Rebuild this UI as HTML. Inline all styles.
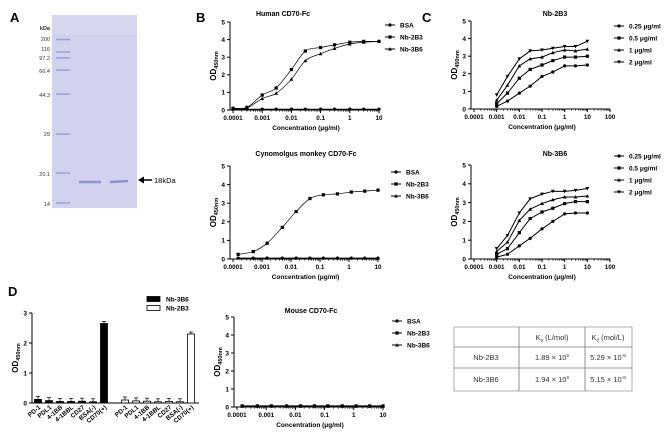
<!DOCTYPE html>
<html><head><meta charset="utf-8"><style>
html,body{margin:0;padding:0;background:#fff}
svg{display:block;font-family:"Liberation Sans",Arial,sans-serif}
</style></head><body>
<svg id="fig" width="667" height="433" viewBox="0 0 667 433" xmlns="http://www.w3.org/2000/svg">
<g>
<text x="10" y="22" font-size="13" font-weight="bold">A</text>
<rect x="52" y="15" width="85" height="193" fill="#d0d2ee"/>
<rect x="52" y="15" width="85" height="20" fill="#d8d8ee" opacity="0.7"/>
<g font-size="5.5" fill="#333" text-anchor="end">
<text x="50" y="30" font-weight="bold">kDa</text>
<text x="50" y="41">200</text><text x="50" y="51">116</text><text x="50" y="60">97.2</text>
<text x="50" y="73">66.4</text><text x="50" y="97">44.3</text><text x="50" y="136">29</text>
<text x="50" y="176">20.1</text><text x="50" y="206">14</text>
</g>
<g stroke="#9ca0d6" stroke-width="1.5">
<line x1="56" y1="39.5" x2="70" y2="39.5"/><line x1="56" y1="52" x2="70" y2="52"/><line x1="56" y1="58" x2="70" y2="58"/>
<line x1="56" y1="70" x2="70" y2="70"/><line x1="56" y1="94" x2="70" y2="94"/><line x1="56" y1="134" x2="70" y2="134"/>
<line x1="56" y1="173" x2="70" y2="173"/><line x1="56" y1="203" x2="70" y2="203"/>
</g>
<line x1="79" y1="182" x2="101" y2="182" stroke="#8d93d0" stroke-width="2.5"/>
<line x1="110" y1="182" x2="128" y2="181" stroke="#8d93d0" stroke-width="2.5"/>
<line x1="142" y1="180" x2="152" y2="180" stroke="#000" stroke-width="1.5"/>
<polygon points="138,180 144,176.5 144,183.5" fill="#000"/>
<text x="154" y="183" font-size="7.5">18kDa</text>
</g>
<text x="196" y="22" font-size="13" font-weight="bold">B</text>
<text x="422" y="22" font-size="13" font-weight="bold">C</text>
<text x="8" y="296" font-size="13" font-weight="bold">D</text>
<g id="charts"></g>
<g font-size="7.5" fill="#333">
<rect x="454" y="327" width="178" height="64" fill="none" stroke="#999" stroke-width="0.8"/>
<line x1="519" y1="327" x2="519" y2="391" stroke="#777" stroke-width="0.8"/>
<line x1="585" y1="327" x2="585" y2="391" stroke="#777" stroke-width="0.8"/>
<line x1="454" y1="347" x2="632" y2="347" stroke="#777" stroke-width="0.8"/>
<line x1="454" y1="368" x2="632" y2="368" stroke="#777" stroke-width="0.8"/>
<text x="552" y="340" text-anchor="middle">K<tspan font-size="4.5" dy="1.5">a</tspan><tspan dy="-1.5"> (L/mol)</tspan></text>
<text x="608" y="340" text-anchor="middle">K<tspan font-size="4.5" dy="1.5">d</tspan><tspan dy="-1.5"> (mol/L)</tspan></text>
<text x="486" y="360" text-anchor="middle">Nb-2B3</text>
<text x="552" y="360" text-anchor="middle">1.89 × 10<tspan font-size="4.5" dy="-3">9</tspan></text>
<text x="608" y="360" text-anchor="middle">5.29 × 10<tspan font-size="4.5" dy="-3">-8</tspan></text>
<text x="486" y="382" text-anchor="middle">Nb-3B6</text>
<text x="552" y="382" text-anchor="middle">1.94 × 10<tspan font-size="4.5" dy="-3">9</tspan></text>
<text x="608" y="382" text-anchor="middle">5.15 × 10<tspan font-size="4.5" dy="-3">-8</tspan></text>
</g>
</svg>
<script>
const concB = [0.0001,0.0003,0.001,0.003,0.01,0.03,0.1,0.3,1,3,10];
const humanBSA = [0.05,0.05,0.05,0.05,0.05,0.05,0.05,0.05,0.05,0.05,0.05];
const human2B3 = [0.1,0.15,0.85,1.25,2.3,3.35,3.55,3.7,3.85,3.9,3.9];
const human3B6 = [0.1,0.12,0.65,0.95,1.75,2.8,3.2,3.5,3.75,3.85,3.9];
const concCyno = [0.00015,0.0005,0.0015,0.005,0.015,0.045,0.13,0.4,1.2,3.5,10];
const cynoBSA = [0.05,0.05,0.05,0.05,0.05,0.05,0.05,0.05,0.05,0.05,0.05];
const cyno2B3 = [0.25,0.4,0.85,1.7,2.55,3.25,3.45,3.5,3.6,3.65,3.7];
const cyno3B6 = [0.05,0.05,0.05,0.05,0.05,0.05,0.05,0.05,0.05,0.05,0.05];
const mouseBSA = [0.05,0.05,0.05,0.05,0.05,0.05,0.05,0.05,0.05,0.05,0.05];
const mouse2B3 = [0.06,0.06,0.06,0.06,0.06,0.06,0.06,0.06,0.06,0.06,0.06];
const mouse3B6 = [0.04,0.04,0.04,0.04,0.04,0.04,0.04,0.04,0.04,0.04,0.04];
const concC = [0.001,0.003,0.01,0.03,0.1,0.3,1,3,10];
const c2B3_025 = [0.15,0.45,0.9,1.3,1.85,2.1,2.45,2.45,2.5];
const c2B3_05 = [0.3,0.9,1.75,2.25,2.5,2.75,2.95,2.95,3.0];
const c2B3_1 = [0.5,1.35,2.45,2.85,2.95,3.2,3.35,3.3,3.4];
const c2B3_2 = [0.8,1.85,2.85,3.3,3.35,3.45,3.55,3.55,3.85];
const c3B6_025 = [0.1,0.25,0.7,1.1,1.6,2.0,2.4,2.45,2.45];
const c3B6_05 = [0.25,0.55,1.4,2.15,2.5,2.7,2.95,3.05,3.05];
const c3B6_1 = [0.4,0.9,2.05,2.65,2.95,3.15,3.3,3.3,3.35];
const c3B6_2 = [0.55,1.25,2.45,3.2,3.45,3.6,3.6,3.65,3.75];
const dCategories = ["PD-1","PDL1","4-1BB","4-1BBL","CD27","BSA(-)","CD70(+)"];
const d3B6 = [0.12,0.08,0.05,0.05,0.06,0.04,2.65];
const d2B3 = [0.1,0.07,0.06,0.04,0.05,0.04,2.3];
const dYTicks = [0,1,2,3];
const yTicksOD = [0,1,2,3,4,5];
const xTickB = ["0.0001","0.001","0.01","0.1","1","10"];
const xTickC = ["0.0001","0.001","0.01","0.1","1","10","100"];
const legB = ["BSA","Nb-2B3","Nb-3B6"];
const legC = ["0.25 μg/ml","0.5 μg/ml","1 μg/ml","2 μg/ml"];

const NS="http://www.w3.org/2000/svg";
const root=document.getElementById('charts');
function mk(tag,attrs,parent){const e=document.createElementNS(NS,tag);for(const k in attrs)e.setAttribute(k,attrs[k]);(parent||root).appendChild(e);return e;}

function marker(g,type,x,y,s){
  let e;
  if(type==='circle') e=mk('circle',{cx:x,cy:y,r:s*0.85,fill:'#000'},g);
  else if(type==='square') e=mk('rect',{x:x-s*0.85,y:y-s*0.85,width:s*1.7,height:s*1.7,fill:'#000'},g);
  else if(type==='up') e=mk('polygon',{points:`${x},${y-s} ${x-s},${y+s*0.8} ${x+s},${y+s*0.8}`,fill:'#000'},g);
  else e=mk('polygon',{points:`${x},${y+s} ${x-s},${y-s*0.8} ${x+s},${y-s*0.8}`,fill:'#000'},g);
  return e;
}
function smoothPath(pts){
  let d=`M${pts[0][0]},${pts[0][1]}`;
  for(let i=0;i<pts.length-1;i++){
    const p0=pts[Math.max(0,i-1)],p1=pts[i],p2=pts[i+1],p3=pts[Math.min(pts.length-1,i+2)];
    const c1=[p1[0]+(p2[0]-p0[0])/6,p1[1]+(p2[1]-p0[1])/6],c2=[p2[0]-(p3[0]-p1[0])/6,p2[1]-(p3[1]-p1[1])/6];
    d+=` C${c1[0]},${c1[1]} ${c2[0]},${c2[1]} ${p2[0]},${p2[1]}`;
  }
  return d;
}

function logChart(cfg){
  const g=mk('g',{});
  
  
  const lx0=Math.log10(cfg.xmin),lx1=Math.log10(cfg.xmax);
  const X=v=>cfg.x0+(Math.log10(v)-lx0)/(lx1-lx0)*(cfg.x1-cfg.x0);
  const Y=v=>cfg.y0-(v/5)*(cfg.y0-cfg.y1);
  const t=mk('text',{x:cfg.tx,y:cfg.ty,'font-size':7,'font-weight':'bold','text-anchor':'middle'},g);
  t.textContent=cfg.title;
  
  
  const ax=cfg.x0-3;
  mk('line',{x1:ax,y1:cfg.y1,x2:ax,y2:cfg.y0,stroke:'#000','stroke-width':1},g);
  mk('line',{x1:ax,y1:cfg.y0,x2:cfg.x1,y2:cfg.y0,stroke:'#000','stroke-width':1},g);
  yTicksOD.forEach(v=>{
    mk('line',{x1:ax-3,y1:Y(v),x2:ax,y2:Y(v),stroke:'#000'},g);
    const tt=mk('text',{x:ax-5,y:Y(v)+2.3,'font-size':6.5,'font-weight':'bold','text-anchor':'end'},g);
    tt.textContent=v;
    
    
  });
  cfg.xticks.forEach(s=>{
    const v=parseFloat(s),px=X(v);
    mk('line',{x1:px,y1:cfg.y0,x2:px,y2:cfg.y0+3,stroke:'#000'},g);
    for(let k=2;k<10&&v*k<=cfg.xmax*1.0001&&v<cfg.xmax;k++){const m=X(v*k);mk('line',{x1:m,y1:cfg.y0,x2:m,y2:cfg.y0+1.8,stroke:'#000','stroke-width':0.6},g);}
    const tt=mk('text',{x:px,y:cfg.y0+10,'font-size':6.3,'font-weight':'bold','text-anchor':'middle'},g);
    tt.textContent=s;
    
    
  });
  const xt=mk('text',{x:(cfg.x0+cfg.x1)/2,y:cfg.y0+20,'font-size':6.5,'font-weight':'bold','text-anchor':'middle'},g);
  xt.textContent='Concentration (μg/ml)';
  
  
  const yt=mk('text',{x:0,y:0,'font-size':8,'font-weight':'bold','text-anchor':'middle',transform:`translate(${ax-14},${(cfg.y0+cfg.y1)/2}) rotate(-90)`},g);
  yt.innerHTML='OD<tspan font-size="5.5" dy="2">450nm</tspan>';
  
  
  cfg.series.forEach((s,i)=>{
    const sg=mk('g',{},g);
    
    
    const pts=s.vals.map((v,j)=>[X(cfg.conc[j]),Y(v)]);
    const p=mk('path',{d:cfg.smooth?smoothPath(pts):('M'+pts.map(q=>q.join(',')).join(' L')),fill:'none',stroke:'#000','stroke-width':cfg.smooth?0.7:1},sg);
    
    
    pts.forEach(q=>{const m=marker(sg,s.marker,q[0],q[1],1.9);
      
      });
    const ly=cfg.ly+i*cfg.lstep;
    const lg=mk('g',{},g);
    
    
    mk('line',{x1:cfg.lx-5,y1:ly,x2:cfg.lx+5,y2:ly,stroke:'#000'},lg);
    marker(lg,s.marker,cfg.lx,ly,1.9);
    const lt=mk('text',{x:cfg.lx+10,y:ly+2.3,'font-size':6.5,'font-weight':'bold'},lg);
    lt.textContent=s.label;
  });
}
const mB=['circle','square','up'],mC=['circle','square','up','down'];
logChart({name:'chart-human-cd70',title:'Human CD70-Fc',tx:283,ty:16,x0:233,x1:379,y0:110,y1:22,xmin:0.0001,xmax:10,xticks:xTickB,conc:concB,smooth:true,lx:390,ly:25,lstep:12,
  series:[{label:legB[0],vals:humanBSA,marker:mB[0]},{label:legB[1],vals:human2B3,marker:mB[1]},{label:legB[2],vals:human3B6,marker:mB[2]}]});
logChart({name:'chart-cyno-cd70',title:'Cynomolgus monkey CD70-Fc',tx:306,ty:156,x0:233,x1:378,y0:259,y1:166,xmin:0.0001,xmax:10,xticks:xTickB,conc:concCyno,smooth:true,lx:396,ly:172,lstep:12,
  series:[{label:legB[0],vals:cynoBSA,marker:mB[0]},{label:legB[1],vals:cyno2B3,marker:mB[1]},{label:legB[2],vals:cyno3B6,marker:mB[2]}]});
logChart({name:'chart-mouse-cd70',title:'Mouse CD70-Fc',tx:311,ty:313,x0:237,x1:383,y0:407,y1:317,xmin:0.0001,xmax:10,xticks:xTickB,conc:concCyno,smooth:false,lx:397,ly:321,lstep:12,
  series:[{label:legB[0],vals:mouseBSA,marker:mB[0]},{label:legB[1],vals:mouse2B3,marker:mB[1]},{label:legB[2],vals:mouse3B6,marker:mB[2]}]});
logChart({name:'chart-c-nb-2b3',title:'Nb-2B3',tx:555,ty:16,x0:474,x1:610,y0:109,y1:21,xmin:0.0001,xmax:100,xticks:xTickC,conc:concC,smooth:false,lx:619,ly:26,lstep:12,
  series:legC.map((l,i)=>({label:l,vals:[c2B3_025,c2B3_05,c2B3_1,c2B3_2][i],marker:mC[i]}))});
logChart({name:'chart-c-nb-3b6',title:'Nb-3B6',tx:555,ty:156,x0:474,x1:610,y0:259,y1:165,xmin:0.0001,xmax:100,xticks:xTickC,conc:concC,smooth:false,lx:619,ly:156,lstep:12,
  series:legC.map((l,i)=>({label:l,vals:[c3B6_025,c3B6_05,c3B6_1,c3B6_2][i],marker:mC[i]}))});

(function(){
  const g=mk('g',{});
  
  
  const ax=32,y0=403,y1=313,ymax=3;
  const Y=v=>y0-v/ymax*(y0-y1);
  const step=11,bw=7,g1=38,g2=125;
  mk('line',{x1:ax,y1:y1,x2:ax,y2:y0,stroke:'#000'},g);
  mk('line',{x1:ax,y1:y0,x2:g2+6*step+8,y2:y0,stroke:'#000'},g);
  dYTicks.forEach(v=>{
    mk('line',{x1:ax-3,y1:Y(v),x2:ax,y2:Y(v),stroke:'#000'},g);
    const t=mk('text',{x:ax-5,y:Y(v)+2.3,'font-size':6.5,'font-weight':'bold','text-anchor':'end'},g);
    t.textContent=v;
    
    
  });
  const yt=mk('text',{x:0,y:0,'font-size':8,'font-weight':'bold','text-anchor':'middle',transform:`translate(${ax-14},${(y0+y1)/2}) rotate(-90)`},g);
  yt.innerHTML='OD<tspan font-size="5.5" dy="2">450nm</tspan>';
  
  
  [[d3B6,g1,'#000','nb-3b6'],[d2B3,g2,'#fff','nb-2b3']].forEach(([vals,start,fill,nm])=>{
    vals.forEach((v,i)=>{
      const cx=start+i*step;
      const b=mk('rect',{x:cx-bw/2,y:Y(v),width:bw,height:y0-Y(v),fill:fill,stroke:'#000','stroke-width':0.8},g);
      
      
      const e=Y(v)-(v>1?2:3);
      mk('line',{x1:cx,y1:Y(v),x2:cx,y2:e,stroke:'#000','stroke-width':0.7},g);
      mk('line',{x1:cx-2,y1:e,x2:cx+2,y2:e,stroke:'#000','stroke-width':0.7},g);
      const t=mk('text',{x:0,y:0,'font-size':6.3,'font-weight':'bold','text-anchor':'end',transform:`translate(${cx+3},${y0+5}) rotate(-40)`},g);
      t.textContent=dCategories[i];
      
      
    });
  });
  [['Nb-3B6','#000',299],['Nb-2B3','#fff',308]].forEach(([l,f,y])=>{
    const lg=mk('g',{},g);
    
    
    mk('rect',{x:147,y:y-2.5,width:13,height:5,fill:f,stroke:'#000','stroke-width':0.8},lg);
    const t=mk('text',{x:166,y:y+2.3,'font-size':6.5,'font-weight':'bold'},lg);
    t.textContent=l;
  });
})();
</script>
</body></html>
